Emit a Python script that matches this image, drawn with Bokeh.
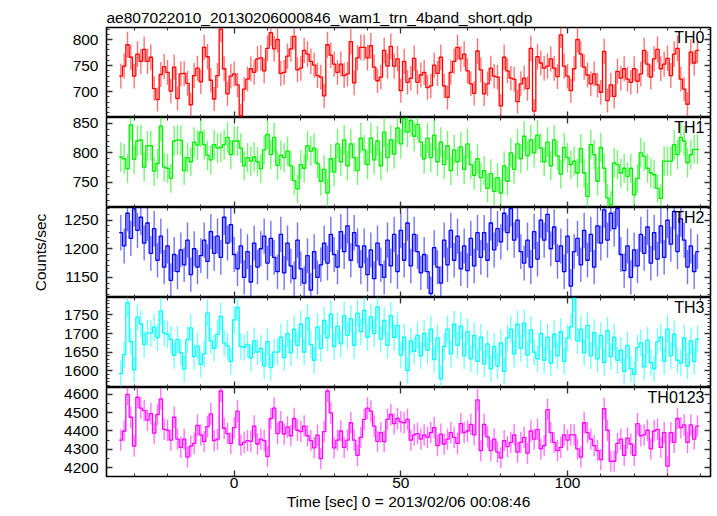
import math
from bokeh.plotting import figure
from bokeh.layouts import column
from bokeh.models import Range1d, LinearAxis, Label, SingleIntervalTicker
from bokeh.embed import file_html
from bokeh.resources import INLINE

title_text = "ae807022010_20130206000846_wam1_trn_4band_short.qdp"
xlabel = "Time [sec] 0 = 2013/02/06 00:08:46"
ylabel = "Counts/sec"

t_first = -34
th0 = [730, 749, 790, 766, 730, 772, 758, 781, 758, 766, 706, 685, 733, 748, 737, 701, 747, 687, 734, 735,
       716, 675, 731, 745, 719, 785, 767, 722, 686, 731, 820, 744, 696, 730, 734, 713, 654, 705, 724, 744,
       737, 763, 765, 740, 783, 813, 782, 800, 735, 737, 768, 782, 806, 742, 745, 779, 772, 758,
       751, 731, 728, 692, 790, 770, 753, 737, 753, 731, 734, 796, 717, 765, 785, 785, 765, 788, 747, 721,
       728, 779, 749, 787, 749, 763, 702, 758, 718, 726, 764, 718, 732, 737, 708, 711, 751, 735, 766, 711,
       689, 737, 758, 785, 763, 772, 740, 715, 697, 778, 742, 696, 715, 745, 730, 728, 673,
       766, 740, 726, 724, 681, 715, 726, 706, 783, 663, 767, 755, 745, 749, 763, 745, 729, 809, 749, 730,
       702, 744, 800, 772, 747, 732, 715, 734, 713, 699, 777, 683, 713, 691, 739, 726, 744, 724, 718, 744,
       720, 734, 779, 753, 728, 763, 781, 744, 753, 764, 731, 772, 783, 724, 705, 676, 776, 755, 779]
th1 = [793, 790, 773, 847, 789, 820, 822, 776, 812, 812, 769, 782, 845, 776, 774, 757, 820, 822, 821, 770,
       792, 785, 818, 813, 835, 814, 796, 788, 814, 808, 809, 814, 826, 797, 820, 820, 808, 778, 792, 786,
       793, 785, 773, 805, 831, 797, 826, 779, 796, 792, 803, 778, 753, 739, 780, 774, 812, 803,
       808, 782, 752, 772, 732, 790, 768, 815, 785, 822, 778, 815, 792, 770, 825, 805, 780, 825, 788, 820,
       778, 835, 792, 822, 798, 842, 815, 858, 835, 855, 828, 848, 818, 790, 825, 792, 830, 785, 818, 780,
       812, 770, 805, 785, 810, 772, 815, 780, 762, 790, 758, 770, 740, 765, 735, 758, 732, 778, 752, 800,
       772, 815, 790, 828, 795, 822, 800, 830, 808, 785, 818, 778, 822, 795,
       764, 809, 792, 780, 786, 766, 807, 766, 726, 814, 797, 752, 809, 774, 724, 712, 783, 780, 766, 774,
       760, 774, 729, 757, 800, 794, 774, 766, 763, 740, 723, 786, 786, 786, 814, 797, 826, 820, 783, 797,
       806, 806]
th2 = [1228, 1205, 1262, 1218, 1270, 1232, 1255, 1210, 1245, 1192, 1235, 1180, 1222,
       1168, 1205, 1145, 1190, 1160, 1198, 1172, 1215, 1155, 1200, 1168, 1188,
       1215, 1178, 1230, 1192, 1222, 1185, 1255, 1210, 1242, 1190,
       1165, 1205, 1150, 1195, 1142, 1210, 1168, 1200, 1222, 1175, 1218, 1185, 1160, 1225,
       1158, 1210, 1170, 1148, 1215, 1165, 1140, 1188, 1128, 1195, 1150, 1172,
       1210, 1175, 1225, 1190, 1168, 1230, 1195, 1240, 1180, 1228, 1205, 1168,
       1205, 1155, 1198, 1148, 1210, 1172, 1150, 1215, 1170, 1225, 1160, 1232,
       1180, 1245, 1170, 1225, 1195, 1158, 1190, 1160, 1122, 1202, 1168, 1140,
       1215, 1172, 1232, 1180, 1222, 1165, 1205, 1162, 1218, 1170, 1228, 1185,
       1228, 1180, 1245, 1198, 1235, 1212, 1262, 1228, 1270, 1215, 1250, 1195,
       1175, 1215, 1168, 1230, 1182, 1250, 1215, 1260, 1200, 1238, 1178, 1205,
       1160, 1222, 1135, 1195, 1218, 1172, 1232, 1180, 1225, 1168, 1240, 1210,
       1268, 1215, 1262, 1235, 1270, 1190, 1162, 1205, 1150, 1198, 1170, 1225,
       1192, 1238, 1175, 1228, 1182, 1240, 1185, 1250, 1208, 1265, 1195, 1252,
       1215, 1168, 1205, 1160, 1195]
th3 = [1592, 1643, 1783, 1678, 1602, 1744, 1726, 1671, 1701, 1701, 1717, 1689, 1761, 1701, 1698, 1684,
       1641, 1684, 1648, 1604, 1684, 1715, 1638, 1666, 1617, 1645, 1755, 1680, 1660, 1698, 1746, 1675,
       1666, 1625, 1737, 1770, 1665, 1663, 1671, 1634, 1680, 1650, 1660, 1613, 1678, 1608, 1650, 1650,
       1690, 1635, 1700, 1648, 1712, 1668, 1725, 1650, 1742, 1670, 1628, 1718,
       1660, 1735, 1688, 1752, 1665, 1720, 1672, 1748, 1695, 1740, 1668, 1755,
       1705, 1762, 1690, 1745, 1700, 1772, 1685, 1735, 1668, 1748, 1690, 1722,
       1642, 1690, 1600, 1680, 1652, 1695, 1640, 1700, 1655, 1712, 1630, 1688,
       1578, 1665, 1712, 1645, 1725, 1668, 1720, 1640, 1705, 1632, 1695, 1625,
       1690, 1618, 1672, 1605, 1665, 1612, 1675, 1598, 1688, 1712, 1645, 1725,
       1660, 1728, 1642, 1710, 1650, 1632, 1700, 1628, 1690, 1620, 1698, 1640,
       1705, 1625, 1688, 1718, 1795, 1680, 1712, 1648, 1722, 1640, 1702, 1632,
       1695, 1622, 1708, 1638, 1690, 1628, 1655, 1598, 1668, 1605, 1590, 1662,
       1675, 1610, 1682, 1622, 1605, 1678, 1690, 1625, 1712, 1640, 1698, 1628,
       1620, 1688, 1612, 1680, 1625, 1685]
th0123 = [4350, 4400, 4600, 4475, 4318, 4584, 4525, 4511, 4459, 4495, 4388, 4490, 4575, 4409, 4404, 4350,
          4475, 4356, 4311, 4356, 4258, 4317, 4333, 4431, 4379, 4342, 4424, 4493, 4347, 4356, 4618, 4415,
          4386, 4333, 4418, 4508, 4324, 4338, 4347, 4343, 4427, 4329, 4356, 4347, 4261, 4468, 4525, 4386,
          4450, 4383, 4422, 4374, 4468, 4404, 4397, 4427, 4374, 4347, 4308, 4377, 4249, 4397, 4618, 4499,
          4308, 4350, 4400, 4311, 4350, 4445, 4350, 4267, 4365, 4463, 4525, 4508, 4427, 4343, 4391, 4342,
          4463, 4490, 4440, 4468, 4450, 4445, 4463, 4350, 4379, 4386, 4356, 4379, 4365, 4391, 4418, 4320,
          4383, 4329, 4356, 4391, 4365, 4333, 4440, 4391, 4400, 4436, 4379, 4570, 4293, 4436, 4368, 4293,
          4356, 4285, 4254, 4347, 4315, 4338, 4379, 4285, 4338, 4365, 4279, 4400, 4356, 4409, 4302, 4320,
          4516, 4391, 4338, 4293, 4311, 4379, 4350,
          4379, 4379, 4302, 4258, 4445, 4391, 4356, 4320, 4293,
          4244, 4522, 4404, 4235, 4235, 4333, 4356, 4267, 4361, 4329, 4267, 4440, 4374, 4379, 4404, 4302,
          4400, 4409, 4311, 4391, 4208, 4391, 4338, 4468, 4418, 4433, 4338, 4433, 4356, 4427]

names = ["TH0", "TH1", "TH2", "TH3", "TH0123"]
series = [th0, th1, th2, th3, th0123]
for s in series:
    assert len(s) == 174, len(s)
colors = ["#ff0000", "#00ee00", "#0000ff", "#00ffff", "#ff00ff"]
yranges = [(650.6, 823.0), (707.7, 859.7), (1115.0, 1272.0), (1554.6, 1797.0), (4152.0, 4637.0)]
yintervals = [50, 50, 50, 50, 100]
yminor = [5, 5, 5, 5, 2]
frame_h = [90, 90, 90, 90, 89]
err_scale = 0.88

FONT = "Liberation Sans"
FS = "15.5px"
OVER = 8
x_range = Range1d(-38.3, 142.9)

def style_axis(ax, labels=True):
    ax.major_tick_in = 6
    ax.major_tick_out = 0
    ax.minor_tick_in = 3
    ax.minor_tick_out = 0
    ax.axis_line_color = None
    ax.major_tick_line_color = "#333333"
    ax.minor_tick_line_color = "#333333"
    ax.major_tick_line_width = 1.3
    ax.minor_tick_line_width = 1.1
    if labels:
        ax.major_label_text_font = FONT
        ax.major_label_text_font_size = FS
        ax.major_label_text_color = "black"
    else:
        ax.major_label_text_font_size = "0px"
        ax.major_label_standoff = 0
        ax.major_label_text_color = None

figs = []
n = len(names)
for i in range(n):
    top = 27 if i == 0 else OVER
    bottom = 36 if i == n - 1 else 0
    p = figure(frame_width=604, frame_height=frame_h[i], x_range=x_range,
               y_range=Range1d(*yranges[i]), output_backend="svg", toolbar_location=None,
               min_border_left=106, min_border_right=6, min_border_top=top, min_border_bottom=bottom,
               x_axis_location=None, y_axis_location=None, background_fill_color="white",
               border_fill_color=None)
    if i > 0:
        p.margin = (-OVER, 0, 0, 0)
    p.outline_line_color = "black"
    p.outline_line_width = 1.6
    p.xgrid.visible = False
    p.ygrid.visible = False

    yt = SingleIntervalTicker(interval=yintervals[i], num_minor_ticks=yminor[i])
    xt = SingleIntervalTicker(interval=50, num_minor_ticks=5)
    left = LinearAxis(ticker=yt)
    style_axis(left, True)
    left.major_label_standoff = 8
    if i == 2:
        left.axis_label = ylabel
        left.axis_label_text_font = FONT
        left.axis_label_text_font_size = FS
        left.axis_label_text_font_style = "normal"
        left.axis_label_text_color = "black"
        left.axis_label_standoff = 12
    p.add_layout(left, "left")
    right = LinearAxis(ticker=yt)
    style_axis(right, False)
    p.add_layout(right, "right")
    above = LinearAxis(ticker=xt)
    style_axis(above, False)
    p.add_layout(above, "above")
    below = LinearAxis(ticker=xt)
    if i == n - 1:
        style_axis(below, True)
        below.major_label_standoff = 1
        below.axis_label = xlabel
        below.axis_label_text_font = FONT
        below.axis_label_text_font_size = FS
        below.axis_label_text_font_style = "normal"
        below.axis_label_text_color = "black"
        below.axis_label_standoff = 2
    else:
        style_axis(below, False)
    p.add_layout(below, "below")

    vals = series[i]
    ts = [t_first + k for k in range(len(vals))]
    errs = [err_scale * math.sqrt(v) for v in vals]
    p.segment(x0=ts, y0=[v - e for v, e in zip(vals, errs)], x1=ts,
              y1=[v + e for v, e in zip(vals, errs)], line_color=colors[i],
              line_width=1.4, line_alpha=0.55)
    xs, ys = [], []
    for t, v in zip(ts, vals):
        xs += [t - 0.5, t + 0.5]
        ys += [v, v]
    p.line(xs, ys, line_color=colors[i], line_width=1.3)

    lab = Label(x=x_range.end, y=yranges[i][1], x_offset=-6, y_offset=-1, text=names[i],
                text_align="right", text_baseline="top", text_font=FONT,
                text_font_size="16px", text_color="black")
    p.add_layout(lab)

    if i == 0:
        p.title.text = title_text
        p.title.text_font = FONT
        p.title.text_font_size = FS
        p.title.text_font_style = "normal"
        p.title.text_color = "black"
        p.title.align = "left"
        p.title.standoff = 4
        p.title.offset = 0
    figs.append(p)

layout = column(*figs, spacing=0)
open("out.html", "w").write(file_html(layout, INLINE))
